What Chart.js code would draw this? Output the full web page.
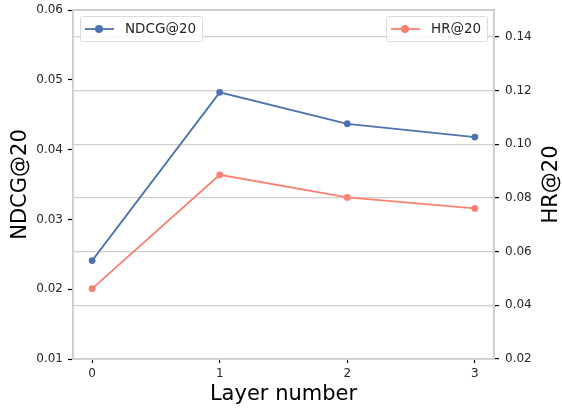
<!DOCTYPE html>
<html>
<head>
<meta charset="utf-8">
<script src="https://cdn.jsdelivr.net/npm/chart.js@4"></script>
<style>
  html, body { margin: 0; padding: 0; background: #fff; }
  #wrap { width: 562px; height: 409px; }
</style>
</head>
<body>
<div id="wrap"><canvas id="chart" width="562" height="409"></canvas></div>
<script>
const layers = [0, 1, 2, 3];
const ndcg = [0.0241, 0.0482, 0.0437, 0.0418];
const hr = [0.0462, 0.0886, 0.0802, 0.0761];
const leftTicks = [0.01, 0.02, 0.03, 0.04, 0.05, 0.06];
const rightTicks = [0.02, 0.04, 0.06, 0.08, 0.10, 0.12, 0.14];

const BLUE = '#4c72b0';
const SALMON = '#fa8072';
const FONT = 'DejaVu Sans';
const SPINE = '#cccccc';

// two separate legend boxes, like matplotlib's twin-axis legends
const twinLegends = {
  id: 'twinLegends',
  afterDraw(chart) {
    const { ctx, chartArea } = chart;
    const boxes = [
      { ds: 0, x: chartArea.left + 7, w: 122 },
      { ds: 1, x: chartArea.right - 108, w: 101 }
    ];
    ctx.save();
    boxes.forEach(b => {
      const ds = chart.data.datasets[b.ds];
      const y = chartArea.top + 6;
      const h = 25;
      ctx.fillStyle = 'rgba(255,255,255,0.8)';
      ctx.strokeStyle = '#dddddd';
      ctx.lineWidth = 1;
      ctx.beginPath();
      ctx.roundRect(b.x + 0.5, y + 0.5, b.w, h, 2);
      ctx.fill();
      ctx.stroke();
      const cy = y + h / 2 + 0.5;
      ctx.strokeStyle = ds.borderColor;
      ctx.lineWidth = 1.8;
      ctx.beginPath();
      ctx.moveTo(b.x + 5, cy);
      ctx.lineTo(b.x + 34, cy);
      ctx.stroke();
      ctx.fillStyle = ds.borderColor;
      ctx.beginPath();
      ctx.arc(b.x + 19, cy, 4, 0, Math.PI * 2);
      ctx.fill();
      ctx.fillStyle = '#262626';
      ctx.font = '13.5px "' + FONT + '"';
      ctx.textAlign = 'left';
      ctx.textBaseline = 'middle';
      ctx.fillText(ds.label, b.x + 45, cy);
    });
    ctx.restore();
  }
};

// matplotlib draws the right label bottom-to-top, Chart.js the other way
const rightTitle = {
  id: 'rightTitle',
  afterDraw(chart) {
    const { ctx, chartArea } = chart;
    ctx.save();
    ctx.translate(551.5, (chartArea.top + chartArea.bottom) / 2);
    ctx.rotate(-Math.PI / 2);
    ctx.fillStyle = '#000';
    ctx.font = '21px "' + FONT + '"';
    ctx.textAlign = 'center';
    ctx.textBaseline = 'middle';
    ctx.fillText('HR@20', 0, 0);
    ctx.restore();
  }
};

const topBorder = {
  id: 'topBorder',
  afterDraw(chart) {
    const { ctx, chartArea } = chart;
    ctx.save();
    ctx.strokeStyle = SPINE;
    ctx.lineWidth = 1.8;
    ctx.beginPath();
    ctx.moveTo(chartArea.left, chartArea.top);
    ctx.lineTo(chartArea.right, chartArea.top);
    ctx.stroke();
    ctx.restore();
  }
};

const font = size => ({ family: FONT, size });

new Chart(document.getElementById('chart'), {
  type: 'line',
  data: {
    datasets: [
      {
        label: 'NDCG@20',
        data: layers.map((l, i) => ({ x: l, y: ndcg[i] })),
        yAxisID: 'y',
        borderColor: BLUE,
        backgroundColor: BLUE,
        borderWidth: 1.8,
        pointRadius: 3.4,
        pointBorderWidth: 0,
        tension: 0
      },
      {
        label: 'HR@20',
        data: layers.map((l, i) => ({ x: l, y: hr[i] })),
        yAxisID: 'y1',
        borderColor: SALMON,
        backgroundColor: SALMON,
        borderWidth: 1.8,
        pointRadius: 3.4,
        pointBorderWidth: 0,
        tension: 0
      }
    ]
  },
  options: {
    responsive: false,
    animation: false,
    layout: { padding: { top: 10, right: 0, left: 0, bottom: 0 } },
    plugins: {
      legend: { display: false },
      tooltip: { enabled: false }
    },
    scales: {
      x: {
        type: 'linear',
        min: -0.15,
        max: 3.15,
        afterBuildTicks: s => { s.ticks = layers.map(v => ({ value: v })); },
        afterFit: s => { s.height = 50; },
        ticks: { color: '#262626', font: font(12), padding: 4,
                 callback: v => String(v) },
        grid: { drawOnChartArea: false, tickLength: 4, tickColor: '#000', tickWidth: 1.2 },
        border: { color: SPINE, width: 1.8 },
        title: { display: true, text: 'Layer number', color: '#000',
                 font: font(21), padding: { top: 0, bottom: 2 } }
      },
      y: {
        position: 'left',
        min: 0.01,
        max: 0.06,
        afterBuildTicks: s => { s.ticks = leftTicks.map(v => ({ value: v })); },
        afterFit: s => { s.width = 73; s.paddingTop = 0; s.paddingBottom = 0; },
        ticks: { color: '#262626', font: font(12), padding: 5,
                 callback: v => v.toFixed(2) },
        grid: { drawOnChartArea: false, tickLength: 5, tickColor: '#000', tickWidth: 1.2 },
        border: { color: SPINE, width: 1.8 },
        title: { display: true, text: 'NDCG@20', color: '#000',
                 font: font(21), padding: { top: 7.5, bottom: 0 } }
      },
      y1: {
        position: 'right',
        min: 0.02,
        max: 0.15,
        afterBuildTicks: s => { s.ticks = rightTicks.map(v => ({ value: v })); },
        afterFit: s => { s.width = 68; s.paddingTop = 0; s.paddingBottom = 0; },
        ticks: { color: '#262626', font: font(12), padding: 6,
                 callback: v => v.toFixed(2) },
        grid: { drawOnChartArea: true, color: '#d0d0d0', lineWidth: 1.2,
                tickLength: 5, tickColor: '#000', tickWidth: 1.2 },
        border: { color: SPINE, width: 1.8 }
      }
    }
  },
  plugins: [twinLegends, rightTitle, topBorder]
});
</script>
</body>
</html>
